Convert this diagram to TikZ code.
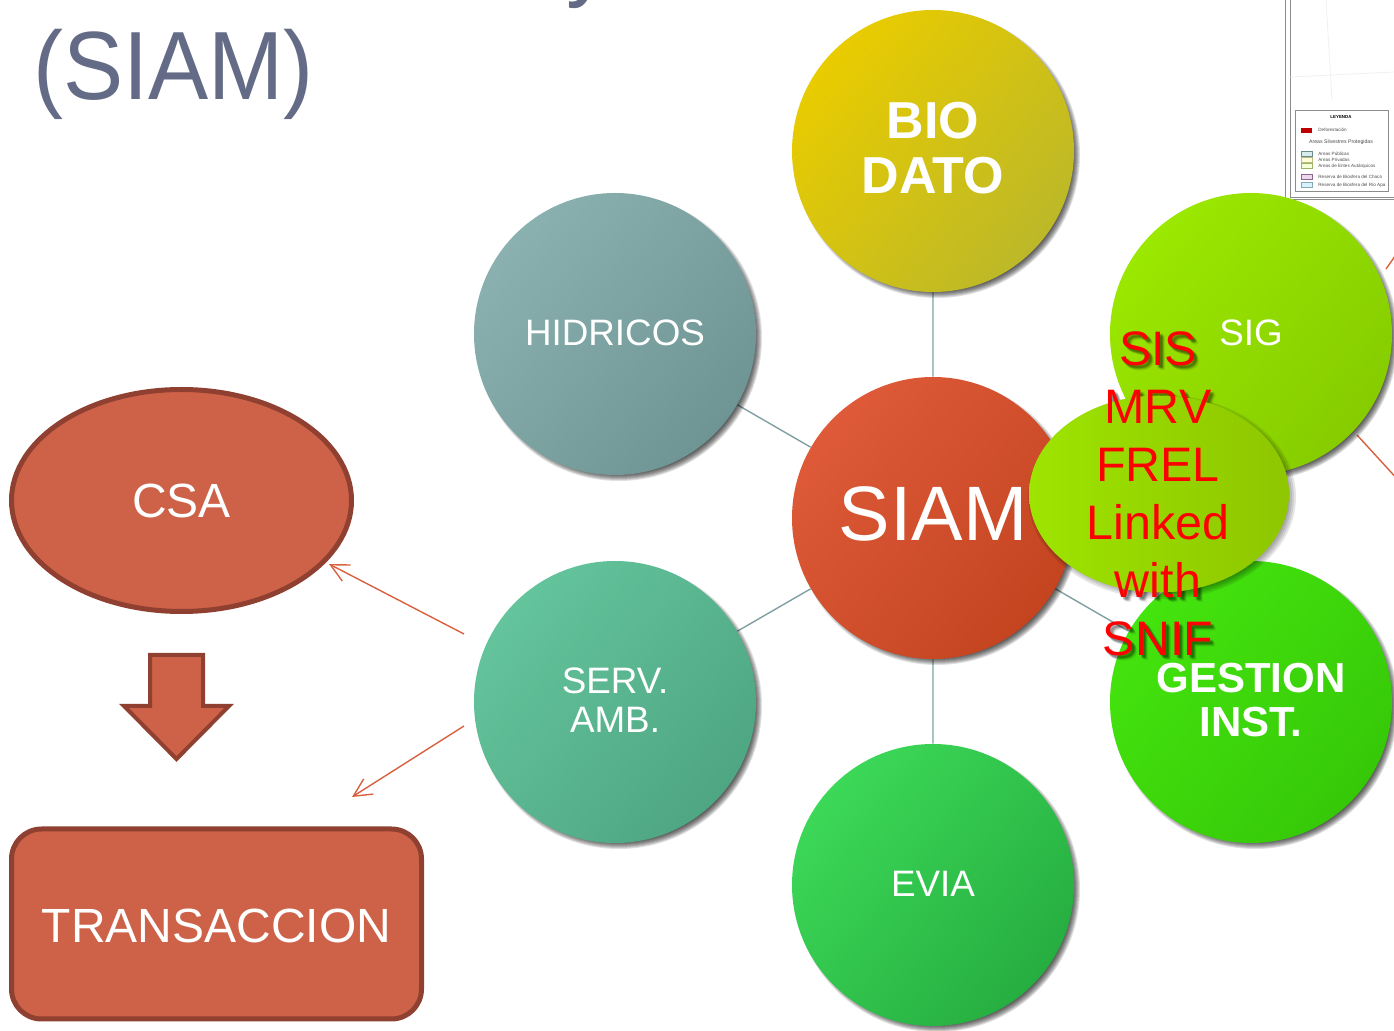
\documentclass[tikz,border=0pt]{standalone}
\usepackage{fontspec}
\setmainfont{Liberation Sans}
\usetikzlibrary{arrows.meta, backgrounds, shapes.geometric}
\definecolor{titleink}{HTML}{636B86}
\definecolor{brick}{HTML}{CD6248}
\definecolor{brickdark}{HTML}{8F4030}
\definecolor{linkline}{HTML}{7F9FA2}
\definecolor{thinred}{HTML}{D8603F}
\definecolor{limeA}{HTML}{9EE400}
\definecolor{limeB}{HTML}{98DC00}
\definecolor{limeC}{HTML}{8EC600}
\tikzset{
  bubble/.style={circle, minimum size=141pt, inner sep=0pt},
  bubtxt/.style={text=white, align=center, inner sep=0pt},
  plaintxt/.style={font=\fontsize{18.4}{19.5}\selectfont},
  boldtxt/.style={font=\bfseries\fontsize{21}{22}\selectfont},
  biotxt/.style={font=\bfseries\fontsize{26}{27.5}\selectfont},
  siamtxt/.style={font=\fontsize{38.6}{40}\selectfont},
  redtxt/.style={align=center, inner sep=0pt, font=\fontsize{24.2}{29}\selectfont},
  blockshape/.style={fill=brick, draw=brickdark, line width=2.5pt, text=white, font=\fontsize{24}{28}\selectfont},
  titletxt/.style={anchor=base west, inner sep=0pt, text=titleink, xscale=.93, font=\fontsize{48.5}{50}\selectfont},
  thinarrow/.style={draw=thinred, line width=.7pt, -{Straight Barb[length=9pt, width=9pt, line width=.7pt]}},
  maptxt/.style={inner sep=0pt, anchor=west, text=black!70, font=\fontsize{2.3}{2.6}\selectfont}
}
\begin{document}
\begin{tikzpicture}[x=.5pt, y=-.5pt]
  \useasboundingbox (0,0) rectangle (1394,1031);
  \clip (0,0) rectangle (1394,1031);
  % title, top line runs off the page
  \node[titletxt] (titleA) at (566,-11) {y};
  \node[titletxt] (titleB) at (33,100) {(SIAM)};
  % map in the corner
  \draw[black!45, line width=.5pt] (1285,0) -- (1285,200) -- (1394,200);
  \draw[black!45, line width=.4pt] (1290,0) -- (1290,197) -- (1394,197);
  \draw[black!6, line width=.4pt] (1326,0) -- (1332,100) (1290,77) -- (1394,72);
  \draw[black!45, line width=.4pt] (1295,110) rectangle (1388,191);
  \node[inner sep=0pt, font=\bfseries\fontsize{2.2}{2.6}\selectfont] (leyenda) at (1341,117) {LEYENDA};
  \fill[red!75!black] (1301,128) rectangle (1312,133);
  \node[maptxt] (mapA) at (1318,130) {Deforestaci\'on};
  \node[inner sep=0pt, text=black!70, font=\fontsize{2.6}{3}\selectfont] (mapB) at (1341,142) {Areas Silvestres Protegidas};
  \foreach \i/\yy/\col/\txt in {1/154/teal/Areas P\'ublicas, 2/160/yellow/Areas Privadas, 3/166/lime/Areas de Entes Aut\'arquicos, 4/177/violet/Reserva de Biosfera del Chaco, 5/185/cyan/Reserva de Biosfera del R\'io Apa} {
    \draw[\col!50!black!60, fill=\col!15, line width=.3pt] (1301,\yy-2.5) rectangle (1312,\yy+2.5);
    \node[maptxt] (mapC\i) at (1318,\yy) {\txt};
  }
  % red lines leaving the page
  \coordinate (edgeA) at (1386,269);
  \coordinate (edgeB) at (1400,249);
  \coordinate (edgeC) at (1357,435);
  \coordinate (edgeD) at (1400,482);
  \draw[thinred, line width=.7pt] (edgeA)--(edgeB) (edgeC)--(edgeD);
  % bubbles with their soft shadows
  \foreach \name/\x/\y/\light/\mid/\dark/\fnt/\dy/\txt in {
      hidricos/615/334/8AB0B0/82AAAA/6E9494/plaintxt/-1/HIDRICOS,
      biodato/933/151/E9CC00/DCBA00/BCB828/biotxt/-3/{BIO\\DATO},
      sig/1251/334/9BE800/94E000/86CC00/plaintxt/-1/SIG,
      gestion/1251/702/44E40E/40DE0C/36C808/boldtxt/-2/{GESTION\\INST.},
      evia/933/885/3CD858/34D24A/26AE40/plaintxt/-1/EVIA,
      serv/615/702/64C49C/5EBE98/4EA682/plaintxt/-1.5/{SERV.\\AMB.},
      siam/933/518/DE5A38/DE5029/C44420/siamtxt/-4/SIAM} {
    \foreach \r in {136,137,...,143} \fill[black, opacity=.12] (\x+4,\y+4) circle[radius=\r*.5pt];
    \definecolor{cA}{HTML}{\light}\definecolor{cB}{HTML}{\mid}\definecolor{cC}{HTML}{\dark}
    \node[bubble, top color=cA, middle color=cB, bottom color=cC, shading angle=50] (\name) at (\x,\y) {};
    \node[bubtxt, \fnt] (\name txt) at (\x,\y+\dy) {\txt};
  }
  \begin{scope}[on background layer]
    \draw[linkline, line width=.7pt] (siam)--(biodato) (siam)--(hidricos) (siam)--(serv) (siam)--(evia) (siam)--(gestion) (siam)--(sig);
  \end{scope}
  % red text: its shadow lies under the ellipse, the letters over it
  \foreach \dx/\dy in {2/2,3/3,4/4,3/2,2/3,4/3,3/4,5/5} {
    \node[redtxt, text=black, opacity=.08] (redshade\dx\dy) at (1158+\dx,494+\dy) {SIS\\MRV\\FREL\\Linked\\with\\SNIF};
  }
  \foreach \r in {0,2,4,6} \fill[black, opacity=.1] (1162,497) ellipse[x radius=(128+\r)*.5pt, y radius=(96+\r)*.5pt];
  \node[ellipse, minimum width=130pt, minimum height=98.5pt, inner sep=0pt, left color=limeA, middle color=limeB, right color=limeC] (mrv) at (1159,494) {};
  \node[redtxt, text=red] (mrvtxt) at (1158,494) {SIS\\MRV\\FREL\\Linked\\with\\SNIF};
  % left column
  \node[ellipse, blockshape, minimum width=170pt, minimum height=111pt, inner sep=0pt, text height=17.6pt] (csa) at (181.5,500.5) {CSA};
  \draw[fill=brick, draw=brickdark, line width=2pt, line join=miter] (150,655) -- (203,655) -- (203,706) -- (229,706) -- (176.5,759) -- (124,706) -- (150,706) -- cycle;
  \node[rectangle, rounded corners=15pt, blockshape, minimum width=205pt, minimum height=95pt, inner sep=0pt, text height=19pt] (trans) at (216.5,924) {TRANSACCION};
  \coordinate (servA) at (464,634);
  \coordinate (servB) at (464,726);
  \coordinate (csatip) at (329,564);
  \coordinate (transtip) at (352,797);
  \draw[thinarrow] (servA) -- (csatip);
  \draw[thinarrow] (servB) -- (transtip);
\end{tikzpicture}
\end{document}
